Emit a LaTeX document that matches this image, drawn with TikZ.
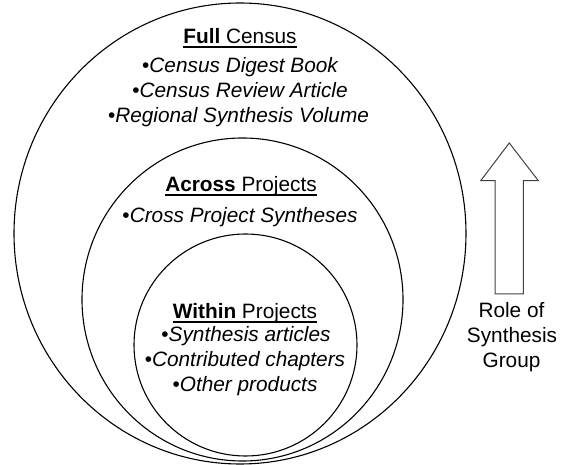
\documentclass[tikz,border=0pt]{standalone}
\usepackage{fontspec}
\setmainfont{Liberation Sans}
\begin{document}
\begin{tikzpicture}[x=1pt,y=-1pt,
  font=\fontsize{20.8}{25}\selectfont,
  txt/.style={anchor=base, inner sep=0pt, outer sep=0pt},
  ring/.style={draw=black, line width=1.1pt},
  uline/.style={line width=2.4pt, draw=black},
  arrowline/.style={draw=black!75, line width=1pt, line join=miter}]
\useasboundingbox (0,0) rectangle (566,465);
% rings
\draw[ring] (240,233.5) ellipse [x radius=226, y radius=230.5];
\draw[ring] (242.5,299.5) ellipse [x radius=160.5, y radius=161.5];
\draw[ring] (245.5,345) ellipse [x radius=111.5, y radius=111];
% full census
\node[txt] (full) at (240,43.3) {\textbf{Full} Census};
\draw[uline] ([yshift=-3.5pt]full.base west) -- ([yshift=-3.5pt]full.base east);
\node[txt] (f1) at (240.5,72.7) {•\textit{Census Digest Book}};
\node[txt] (f2) at (240,97.7) {•\textit{Census Review Article}};
\node[txt] (f3) at (238.5,122.7) {•\textit{Regional Synthesis Volume}};
% across projects
\node[txt] (across) at (241,191.7) {\textbf{Across} Projects};
\draw[uline] ([yshift=-3.5pt]across.base west) -- ([yshift=-3.5pt]across.base east);
\node[txt] (a1) at (240,223) {•\textit{Cross Project Syntheses}};
% within projects
\node[txt] (within) at (245,318.5) {\textbf{Within} Projects};
\draw[uline] ([yshift=-3.5pt]within.base west) -- ([yshift=-3.5pt]within.base east);
\node[txt] (w1) at (246,341.7) {•\textit{Synthesis articles}};
\node[txt] (w2) at (245,366.7) {•\textit{Contributed chapters}};
\node[txt] (w3) at (245,391.7) {•\textit{Other products}};
% arrow
\draw[arrowline] (509.3,143) -- (538.3,180.7) -- (523.3,180.7) -- (523.3,294)
  -- (495,294) -- (495,180.7) -- (480.7,180.7) -- cycle;
\node[txt] (r1) at (511.5,318) {Role of};
\node[txt] (r2) at (512,343) {Synthesis};
\node[txt] (r3) at (511.5,367.5) {Group};
\end{tikzpicture}
\end{document}
